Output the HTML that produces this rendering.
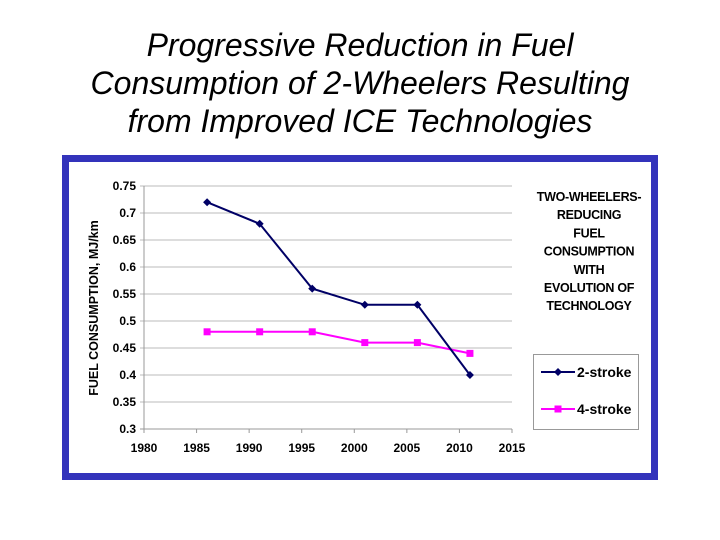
<!DOCTYPE html>
<html><head><meta charset="utf-8"><style>
body{margin:0;width:720px;height:540px;background:#fff;overflow:hidden;font-family:"Liberation Sans",sans-serif}
#title{position:absolute;left:0;top:26px;width:720px;text-align:center;font-style:italic;font-size:32px;line-height:38px;color:#000}
#frame{position:absolute;left:62px;top:155px;width:582px;height:311px;border:7px solid #3333bb;background:#fff}
svg{position:absolute;left:0;top:0}
</style></head><body>
<div id="title">Progressive Reduction in Fuel<br>Consumption of 2-Wheelers Resulting<br>from Improved ICE Technologies</div>
<div id="frame"></div>
<svg id="chart" width="720" height="540"></svg>
<script>
const years=[1986,1991,1996,2001,2006,2011];
const twoStroke=[0.72,0.68,0.56,0.53,0.53,0.40];
const fourStroke=[0.48,0.48,0.48,0.46,0.46,0.44];
const xTicks=[1980,1985,1990,1995,2000,2005,2010,2015];
const yTicks=[0.3,0.35,0.4,0.45,0.5,0.55,0.6,0.65,0.7,0.75];
const legendTitle=["TWO-WHEELERS-","REDUCING","FUEL","CONSUMPTION","WITH","EVOLUTION OF","TECHNOLOGY"];
const NS="http://www.w3.org/2000/svg";
const svg=document.getElementById('chart');
const x0=144,x1=512,y0=429,y1=186;
const X=v=>x0+(v-1980)/(2015-1980)*(x1-x0);
const Y=v=>y0-(v-0.3)/(0.75-0.3)*(y0-y1);
function mk(t,a){const e=document.createElementNS(NS,t);for(const k in a)e.setAttribute(k,a[k]);svg.appendChild(e);return e;}
yTicks.forEach(v=>{
 const g=mk('line',{x1:x0-4,x2:x1,y1:Y(v),y2:Y(v),stroke:v===0.3?'#999':'#bbb','stroke-width':1});
 
 
 const t=mk('text',{x:x0-8,y:Y(v)+4,'text-anchor':'end','font-size':12,'font-weight':'bold'});
 t.textContent=String(v);
 
 
});
const ax=mk('line',{x1:x0,x2:x0,y1:y1,y2:y0,stroke:'#999'});


xTicks.forEach(v=>{
 const k=mk('line',{x1:X(v),x2:X(v),y1:y0,y2:y0+4,stroke:'#999'});
 
 
 const t=mk('text',{x:X(v),y:452,'text-anchor':'middle','font-size':12,'font-weight':'bold'});
 t.textContent=String(v);
 
 
});
const yt=mk('text',{x:0,y:0,transform:'translate(98,308) rotate(-90)','text-anchor':'middle','font-size':12.5,'font-weight':'bold'});
yt.textContent='FUEL CONSUMPTION, MJ/km';


function series(vals,color,shape,name){
 const p=mk('polyline',{points:vals.map((v,i)=>X(years[i])+','+Y(v)).join(' '),fill:'none',stroke:color,'stroke-width':2});
 
 
 vals.forEach((v,i)=>{
  const cx=X(years[i]),cy=Y(v);let m;
  if(shape==='d')m=mk('polygon',{points:`${cx},${cy-4} ${cx+4},${cy} ${cx},${cy+4} ${cx-4},${cy}`,fill:color});
  else m=mk('rect',{x:cx-3.5,y:cy-3.5,width:7,height:7,fill:color});
  
  
 });
}
series(fourStroke,'#ff00ff','s','four-stroke');
series(twoStroke,'#000066','d','two-stroke');
legendTitle.forEach((s,i)=>{
 const t=mk('text',{x:589,y:201+i*18.2,'text-anchor':'middle','font-size':12.5,'font-weight':'bold','letter-spacing':'-0.3'});
 t.textContent=s;
 
 
});
const lb=mk('rect',{x:533.5,y:354.5,width:105,height:75,fill:'none',stroke:'#999'});


[['2-stroke','#000066','d',372],['4-stroke','#ff00ff','s',409]].forEach(([lab,c,sh,y])=>{
 const l=mk('line',{x1:541,x2:575,y1:y,y2:y,stroke:c,'stroke-width':2});
 
 
 let m;
 if(sh==='d')m=mk('polygon',{points:`558,${y-4} 562,${y} 558,${y+4} 554,${y}`,fill:c});
 else m=mk('rect',{x:554.5,y:y-3.5,width:7,height:7,fill:c});
 
 
 const t=mk('text',{x:577,y:y+5,'font-size':14,'font-weight':'bold'});
 t.textContent=lab;
 
 
});
</script>
</body></html>
